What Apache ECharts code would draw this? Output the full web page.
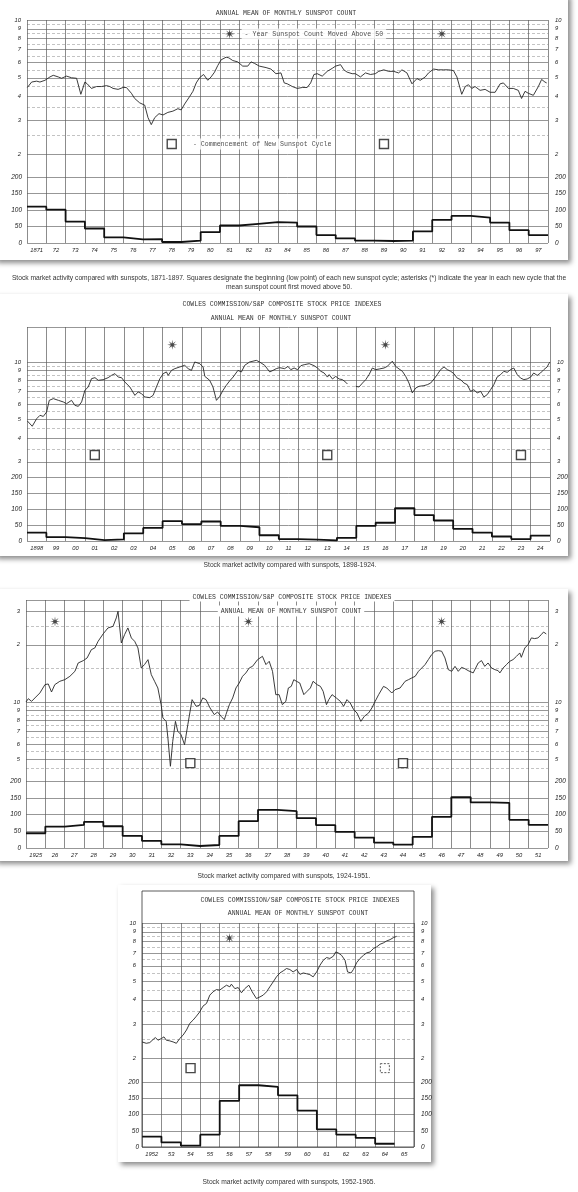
<!DOCTYPE html>
<html><head><meta charset="utf-8">
<script src="https://cdn.jsdelivr.net/npm/echarts@6/dist/echarts.min.js"></script>
<style>html,body{margin:0;padding:0;background:#fff}#c{width:578px;height:1192px}</style>
</head><body><div id="c"></div>
<script>
// ---------- DATA ----------
// Stock price index (Cowles/S&P), [year, value]
const price1871 = [[1871.02,4.45],[1871.24,4.75],[1871.5,4.8],[1871.67,4.75],[1871.76,4.65],[1871.93,4.85],[1872.19,5.05],[1872.36,5.15],[1872.62,5.05],[1872.79,4.97],[1873.05,5.1],[1873.31,5.0],[1873.57,4.97],[1873.79,4.1],[1874.0,4.75],[1874.12,4.65],[1874.34,4.4],[1874.6,4.5],[1874.86,4.5],[1875.12,4.55],[1875.29,4.5],[1875.46,4.4],[1875.72,4.35],[1875.98,4.45],[1876.15,4.45],[1876.41,4.15],[1876.58,3.9],[1876.84,3.7],[1877.1,3.6],[1877.27,3.1],[1877.44,2.85],[1877.62,3.1],[1877.84,3.25],[1878.05,3.2],[1878.3,3.3],[1878.56,3.35],[1878.82,3.45],[1878.99,3.4],[1879.17,3.65],[1879.42,3.98],[1879.6,4.25],[1879.77,4.7],[1879.94,5.0],[1880.15,5.2],[1880.37,4.85],[1880.54,5.05],[1880.72,5.35],[1880.89,5.8],[1881.06,6.2],[1881.32,6.4],[1881.46,6.35],[1881.66,6.15],[1881.92,6.05],[1882.18,5.75],[1882.44,5.75],[1882.61,6.05],[1882.78,5.95],[1883.04,5.75],[1883.39,5.65],[1883.64,5.55],[1883.9,5.25],[1884.16,5.3],[1884.33,4.7],[1884.49,4.65],[1884.75,4.5],[1885.01,4.4],[1885.27,4.45],[1885.52,4.45],[1885.7,4.7],[1885.87,5.2],[1886.04,5.25],[1886.3,5.1],[1886.56,5.4],[1886.82,5.6],[1886.99,5.75],[1887.25,5.85],[1887.42,5.5],[1887.59,5.35],[1887.85,5.25],[1888.02,5.25],[1888.28,5.05],[1888.54,5.3],[1888.8,5.2],[1889.05,5.25],[1889.23,5.4],[1889.49,5.5],[1889.74,5.4],[1890.0,5.4],[1890.26,5.3],[1890.43,5.5],[1890.69,5.3],[1890.95,4.65],[1891.21,4.95],[1891.38,4.85],[1891.64,5.05],[1891.81,5.3],[1892.07,5.55],[1892.33,5.5],[1892.59,5.5],[1892.85,5.5],[1893.1,5.45],[1893.28,5.05],[1893.53,4.1],[1893.71,4.5],[1893.88,4.6],[1894.05,4.4],[1894.22,4.5],[1894.48,4.3],[1894.74,4.35],[1895.0,4.2],[1895.26,4.2],[1895.52,4.65],[1895.69,4.7],[1895.95,4.4],[1896.2,4.4],[1896.46,4.3],[1896.63,3.9],[1896.81,4.25],[1896.98,4.15],[1897.24,4.05],[1897.5,4.5],[1897.67,4.9],[1897.84,4.75],[1897.93,4.7]];
const price1898 = [[1898.02,4.91],[1898.27,4.61],[1898.5,5.05],[1898.67,5.26],[1898.84,5.19],[1899.01,5.47],[1899.15,6.3],[1899.36,6.43],[1899.62,6.3],[1899.87,6.18],[1900.04,6.05],[1900.3,6.3],[1900.47,5.93],[1900.65,5.86],[1900.82,6.18],[1900.99,7.11],[1901.16,7.4],[1901.33,8.18],[1901.51,8.28],[1901.68,8.02],[1901.93,8.08],[1902.19,8.28],[1902.36,8.51],[1902.54,8.69],[1902.71,8.34],[1902.88,8.28],[1903.05,7.86],[1903.31,7.4],[1903.57,6.69],[1903.74,6.97],[1903.91,6.83],[1904.08,6.56],[1904.34,6.51],[1904.51,6.69],[1904.68,7.4],[1904.86,8.18],[1905.03,8.69],[1905.2,8.87],[1905.29,8.51],[1905.46,9.04],[1905.63,9.23],[1905.89,9.42],[1906.14,9.61],[1906.32,9.23],[1906.49,9.04],[1906.66,10.0],[1906.92,9.8],[1907.09,9.42],[1907.18,8.41],[1907.43,8.02],[1907.6,7.4],[1907.78,6.3],[1907.95,6.61],[1908.12,7.11],[1908.29,7.55],[1908.46,7.96],[1908.64,8.34],[1908.89,9.04],[1909.07,8.87],[1909.24,9.61],[1909.49,10.0],[1909.84,10.2],[1910.01,10.0],[1910.27,9.61],[1910.53,8.87],[1910.7,9.04],[1910.87,9.23],[1911.04,9.34],[1911.3,9.23],[1911.47,9.48],[1911.62,9.12],[1911.79,9.3],[1911.97,9.12],[1912.14,9.57],[1912.31,9.68],[1912.57,9.8],[1912.82,9.57],[1913.0,9.3],[1913.17,8.94],[1913.34,8.76],[1913.51,8.34],[1913.6,8.59],[1913.77,8.15],[1913.94,8.41],[1914.11,8.15],[1914.28,8.09],[1914.46,7.83],[1914.54,7.67],[1914.75,null],[1914.97,7.46],[1915.14,7.4],[1915.32,7.76],[1915.49,8.09],[1915.66,8.59],[1915.83,9.3],[1916.0,9.12],[1916.18,9.19],[1916.43,9.3],[1916.6,9.49],[1916.86,10.1],[1917.03,9.49],[1917.21,9.19],[1917.38,8.94],[1917.55,8.41],[1917.72,7.76],[1917.89,6.89],[1918.07,7.31],[1918.24,7.46],[1918.49,7.52],[1918.67,7.61],[1918.84,7.76],[1919.01,8.15],[1919.18,8.59],[1919.35,9.12],[1919.53,9.42],[1919.7,9.12],[1919.87,8.94],[1920.04,8.69],[1920.21,8.24],[1920.38,8.09],[1920.56,7.76],[1920.73,7.61],[1920.9,7.02],[1921.07,7.16],[1921.24,6.89],[1921.42,7.02],[1921.59,6.56],[1921.76,6.75],[1921.93,7.16],[1922.1,7.61],[1922.27,8.34],[1922.45,8.59],[1922.62,8.94],[1922.79,8.83],[1922.96,9.12],[1923.13,9.3],[1923.31,8.59],[1923.48,8.24],[1923.65,8.09],[1923.82,8.15],[1924.0,8.34],[1924.16,8.76],[1924.34,8.51],[1924.51,8.76],[1924.68,9.12],[1924.85,9.42],[1924.94,9.8],[1925.0,10.0]];
const price1925 = [[1925.0,10.0],[1925.12,10.41],[1925.29,10.08],[1925.46,10.5],[1925.72,11.16],[1925.98,12.34],[1926.15,12.44],[1926.32,11.29],[1926.49,12.34],[1926.75,12.85],[1927.01,13.11],[1927.27,13.65],[1927.53,14.5],[1927.7,16.04],[1927.96,16.5],[1928.16,17.04],[1928.38,18.85],[1928.56,19.24],[1928.73,20.86],[1928.99,22.81],[1929.24,24.52],[1929.5,25.0],[1929.67,27.69],[1929.76,30.0],[1929.93,20.44],[1930.1,22.63],[1930.27,24.52],[1930.45,21.72],[1930.62,20.86],[1930.79,19.24],[1930.96,15.11],[1931.13,15.73],[1931.31,16.7],[1931.48,13.93],[1931.65,12.85],[1931.82,11.85],[1931.99,9.68],[1932.08,8.24],[1932.25,7.91],[1932.34,6.46],[1932.47,4.59],[1932.59,6.21],[1932.73,7.91],[1932.85,7.01],[1933.02,6.73],[1933.2,5.96],[1933.37,7.6],[1933.59,10.29],[1933.8,9.49],[1933.97,9.6],[1934.14,10.5],[1934.31,10.29],[1934.52,9.3],[1934.74,8.58],[1934.91,8.86],[1935.09,8.41],[1935.26,8.07],[1935.34,8.58],[1935.52,9.68],[1935.69,10.5],[1935.86,11.85],[1936.03,12.59],[1936.2,13.65],[1936.37,14.21],[1936.55,15.11],[1936.72,15.41],[1936.98,16.71],[1937.23,17.39],[1937.41,15.73],[1937.58,16.37],[1937.75,14.5],[1937.92,10.93],[1938.09,10.93],[1938.26,9.68],[1938.44,10.08],[1938.57,11.85],[1938.72,12.08],[1938.85,13.1],[1938.99,12.85],[1939.16,12.59],[1939.37,10.93],[1939.54,11.38],[1939.71,11.85],[1939.85,12.85],[1940.06,12.33],[1940.23,12.08],[1940.37,11.38],[1940.54,9.68],[1940.66,10.29],[1940.83,10.93],[1941.05,10.5],[1941.26,10.08],[1941.43,9.49],[1941.6,10.29],[1941.77,9.88],[1941.95,9.11],[1942.12,8.75],[1942.32,7.91],[1942.5,8.41],[1942.72,8.75],[1942.89,9.3],[1943.06,10.08],[1943.24,10.93],[1943.49,12.08],[1943.66,11.85],[1943.92,11.15],[1944.09,11.61],[1944.35,11.85],[1944.61,12.85],[1944.78,13.1],[1944.95,13.37],[1945.13,13.65],[1945.3,14.5],[1945.47,15.1],[1945.64,15.72],[1945.81,16.7],[1945.98,17.74],[1946.16,18.49],[1946.33,18.62],[1946.5,18.49],[1946.67,17.05],[1946.84,14.8],[1947.02,14.5],[1947.19,15.4],[1947.36,14.5],[1947.53,15.21],[1947.7,14.97],[1947.87,14.62],[1948.13,14.22],[1948.39,16.04],[1948.56,16.51],[1948.73,15.4],[1948.9,16.04],[1949.08,15.1],[1949.25,14.8],[1949.42,14.62],[1949.51,14.22],[1949.68,15.1],[1949.85,15.72],[1950.02,16.37],[1950.19,16.7],[1950.37,17.39],[1950.54,18.11],[1950.62,17.18],[1950.8,19.23],[1950.97,20.04],[1951.14,21.73],[1951.31,21.55],[1951.48,21.73],[1951.65,22.6],[1951.77,23.34],[1951.91,22.8]];
const price1952 = [[1952.0,2.42],[1952.22,2.38],[1952.4,2.4],[1952.57,2.49],[1952.69,2.55],[1952.82,2.47],[1953.0,2.52],[1953.13,2.57],[1953.25,2.47],[1953.43,2.45],[1953.6,2.42],[1953.77,2.38],[1953.94,2.52],[1954.11,2.62],[1954.29,2.79],[1954.46,3.02],[1954.63,3.14],[1954.8,3.29],[1954.97,3.46],[1955.14,3.71],[1955.32,3.83],[1955.49,4.23],[1955.66,4.4],[1955.83,4.52],[1956.0,4.49],[1956.18,4.63],[1956.35,4.76],[1956.52,4.67],[1956.6,4.82],[1956.78,4.57],[1956.95,4.63],[1957.12,4.35],[1957.29,4.57],[1957.5,4.76],[1957.67,4.4],[1957.89,4.06],[1958.07,4.14],[1958.24,4.23],[1958.41,4.4],[1958.58,4.67],[1958.75,4.95],[1958.92,5.26],[1959.1,5.51],[1959.27,5.65],[1959.44,5.81],[1959.61,5.74],[1959.78,5.58],[1959.96,5.74],[1960.13,5.42],[1960.3,5.51],[1960.47,5.46],[1960.64,5.4],[1960.81,5.26],[1960.99,5.58],[1961.16,6.04],[1961.33,6.41],[1961.5,6.62],[1961.67,6.55],[1961.85,6.73],[1961.97,7.08],[1962.1,7.0],[1962.27,6.8],[1962.45,6.41],[1962.58,5.58],[1962.76,5.51],[1962.88,5.74],[1963.05,6.23],[1963.22,6.55],[1963.4,6.8],[1963.56,7.0],[1963.74,7.08],[1963.91,7.37],[1964.08,7.52],[1964.25,7.76],[1964.42,7.88],[1964.59,8.07],[1964.77,8.2],[1964.94,8.4],[1965.11,8.53]];

// Annual mean sunspot count, one value per year starting at the first year
const sun1871 = [110,101,65,44,17,11,12,3,7,33,53,58,63,62,50,24,14,7,6,7,35,70,82,77,62,39,24];
const sun1898 = [26,12,9,3,5,24,41,62,53,61,47,43,18,6,4,2,10,47,57,103,81,64,38,26,14,6,17];
const sun1925 = [44,64,69,78,65,36,21,11,6,9,36,80,114,110,89,68,48,31,16,10,33,93,152,136,135,84,69];
const sun1952 = [32,14,4,38,142,190,185,159,112,54,38,28,10];

// Marker years
const aboveFiftyYears1 = [1881,1892], cycleStartYears1 = [1878,1889];
const aboveFiftyYears2 = [1905,1916], cycleStartYears2 = [1901,1913,1923];
const aboveFiftyYears3 = [1926,1936,1946], cycleStartYears3 = [1933,1944];
const aboveFiftyYears4 = [1956], cycleStartYears4 = [1954], cycleStartTentative4 = [1964];

// Tick labels
const priceTicksA = [2,3,4,5,6,7,8,9,10];
const priceTicksB = [3,4,5,6,7,8,9,10];
const priceTicksC = [5,6,7,8,9,10,20,30];
const priceTickTextC = ['5','6','7','8','9','10','2','3'];
const minorTicksA = [2.5,3.5,4.5,5.5,6.5,7.5,8.5,9.5];
const minorTicksC = [4.5,5.5,6.5,7.5,8.5,9.5,15,25];
const sunTicks = [0,50,100,150,200];

// ---------- LAYOUT ----------
const MONO = '"Liberation Mono","DejaVu Sans Mono",monospace';
const SANS = '"Liberation Sans",Arial,sans-serif';
const panels = [
  {x0:1871,x1:1898,price:price1871,sun:sun1871,stars:aboveFiftyYears1,cycles:cycleStartYears1,tentative:[],
   ticks:priceTicksA,tickText:null,minor:minorTicksA,left:27,width:521,pTop:20,pH:157,sH:66,pMin:1.52,pMax:10,starLevel:8.46,boxLevel:2.26,topLine:false,legend:true},
  {x0:1898,x1:1925,price:price1898,sun:sun1898,stars:aboveFiftyYears2,cycles:cycleStartYears2,tentative:[],
   ticks:priceTicksB,tickText:null,minor:minorTicksA.slice(1),left:27,width:523,pTop:327,pH:150,sH:64,pMin:2.5,pMax:15.25,starLevel:12.3,boxLevel:3.26,topLine:true},
  {x0:1925,x1:1952,price:price1925,sun:sun1925,stars:aboveFiftyYears3,cycles:cycleStartYears3,tentative:[],
   ticks:priceTicksC,tickText:priceTickTextC,minor:minorTicksC,left:26,width:522,pTop:600,pH:181,sH:67,pMin:3.84,pMax:34.4,starLevel:26.5,boxLevel:4.77,topLine:true},
  {x0:1952,x1:1966,price:price1952,sun:sun1952,stars:aboveFiftyYears4,cycles:cycleStartYears4,tentative:cycleStartTentative4,
   ticks:priceTicksA,tickText:null,minor:minorTicksA,left:142,width:272,pTop:923,pH:159,sH:65,pMin:1.5,pMax:10,starLevel:8.36,boxLevel:1.77,topLine:false,sunLabelMargin:3}
];

function starPath(){
  let s='';
  for(let k=0;k<16;k++){const r=k%2?3:10;const a=k*Math.PI/8-Math.PI/2;
    s+=(k?'L':'M')+(10+r*Math.cos(a)).toFixed(2)+' '+(10+r*Math.sin(a)).toFixed(2)+' ';}
  return 'path://'+s+'Z';
}
const STAR = starPath();
const labelStyle = {fontFamily:SANS,fontStyle:'italic',color:'#222'};

const grid=[],xAxis=[],yAxis=[],series=[];
panels.forEach((p,i)=>{
  const gP=grid.length; grid.push({left:p.left,top:p.pTop,width:p.width,height:p.pH});
  const gS=grid.length; grid.push({left:p.left,top:p.pTop+p.pH,width:p.width,height:p.sH});
  const vLine={show:true,lineStyle:{color:'#5a5a5a',width:0.7}};
  const xP=xAxis.length;
  xAxis.push({gridIndex:gP,type:'value',min:p.x0,max:p.x1,interval:1,axisLabel:{show:false},axisTick:{show:false},axisLine:{show:false},splitLine:vLine});
  const years=[];for(let y=p.x0;y<p.x1;y++)years.push(y+0.5);
  const xS=xAxis.length;
  xAxis.push({gridIndex:gS,type:'value',min:p.x0,max:p.x1,interval:1,axisTick:{show:false},axisLine:{show:false},splitLine:vLine,
    axisLabel:Object.assign({customValues:years,fontSize:5.8,margin:4,formatter:v=>{const y=Math.floor(v);return y===p.x0?String(y):String(y%100).padStart(2,'0');}},labelStyle)});
  const fmt=v=>{const k=p.ticks.findIndex(t=>Math.abs(t-v)<t*1e-3);if(k<0)return '';return p.tickText?p.tickText[k]:String(p.ticks[k]);};
  const solid=p.ticks.slice(); if(p.topLine) solid.push(p.pMax*0.9995);
  const yPL=yAxis.length;
  yAxis.push({gridIndex:gP,type:'log',min:p.pMin,max:p.pMax,position:'left',axisLine:{show:false},axisTick:{show:false,customValues:solid},
    axisLabel:Object.assign({customValues:p.ticks,formatter:fmt,fontSize:5.8,margin:6},labelStyle),splitLine:{show:true,lineStyle:{color:'#6a6a6a',width:0.7}}});
  yAxis.push({gridIndex:gP,type:'log',min:p.pMin,max:p.pMax,position:'right',axisLine:{show:false},axisTick:{show:false,customValues:p.minor},
    axisLabel:Object.assign({customValues:p.ticks,formatter:fmt,fontSize:5.8,margin:7},labelStyle),splitLine:{show:true,lineStyle:{color:'#9a9a9a',width:0.6,type:[3,2]}}});
  const ySL=yAxis.length;
  const m=p.sunLabelMargin||5;
  yAxis.push({gridIndex:gS,type:'value',min:0,max:200,interval:50,position:'left',axisLine:{show:false},axisTick:{show:false},
    axisLabel:Object.assign({fontSize:6.5,margin:m},labelStyle),splitLine:{show:true,lineStyle:{color:'#6a6a6a',width:0.7}}});
  yAxis.push({gridIndex:gS,type:'value',min:0,max:200,interval:50,position:'right',axisLine:{show:false},axisTick:{show:false},
    axisLabel:Object.assign({fontSize:6.5,margin:7},labelStyle),splitLine:{show:false}});
  // price line
  series.push({type:'line',xAxisIndex:xP,yAxisIndex:yPL,data:p.price,showSymbol:false,connectNulls:false,
    lineStyle:{color:'#262626',width:0.9},silent:true,z:3});
  // sunspot step
  const step=p.sun.map((v,k)=>[p.x0+k,v]); step.push([p.x0+p.sun.length,p.sun[p.sun.length-1]]);
  series.push({type:'line',step:'end',xAxisIndex:xS,yAxisIndex:ySL,data:step,showSymbol:false,
    lineStyle:{color:'#111',width:1.8},silent:true,z:3});
  // asterisks
  series.push({type:'scatter',xAxisIndex:xP,yAxisIndex:yPL,symbol:STAR,symbolSize:10,itemStyle:{color:'#1a1a1a'},silent:true,z:4,
    data:p.stars.map((y,k)=>{const d={value:[y+0.5,p.starLevel]};
      if(p.legend&&k===0)d.label={show:true,position:'right',distance:7,formatter:'- Year Sunspot Count Moved Above 50',fontFamily:MONO,fontSize:6.6,color:'#222',backgroundColor:'#fff',padding:[2,3]};
      return d;})});
  // squares
  series.push({type:'scatter',xAxisIndex:xP,yAxisIndex:yPL,symbol:'rect',symbolSize:9,silent:true,z:4,
    itemStyle:{color:'#fff',borderColor:'#1a1a1a',borderWidth:1.4},
    data:p.cycles.map((y,k)=>{const d={value:[y+0.5,p.boxLevel]};
      if(p.legend&&k===0)d.label={show:true,position:'right',distance:13,formatter:'- Commencement of New Sunspot Cycle',fontFamily:MONO,fontSize:6.6,color:'#222',backgroundColor:'#fff',padding:[2,3]};
      return d;})});
  if(p.tentative.length){
    series.push({type:'scatter',xAxisIndex:xP,yAxisIndex:yPL,symbol:'rect',symbolSize:9,silent:true,z:4,
      itemStyle:{color:'#fff',borderColor:'#333',borderWidth:1,borderType:[2,1.5]},
      data:p.tentative.map(y=>[y+0.5,p.boxLevel])});
  }
});

function txt(text,x,y,font,opts){
  return Object.assign({type:'text',x:x,y:y,z:20,style:Object.assign({text:text,font:font,fill:'#333',align:'center',verticalAlign:'middle',textAlign:'center',textVerticalAlign:'middle'},opts||{})});
}
const titleFont='6.5px '+MONO, capFont='6.7px '+SANS;
const graphic=[
  {type:'rect',z:-10,shape:{x:-6,y:-6,width:574,height:266},style:{fill:'#fff',shadowBlur:5,shadowOffsetX:3,shadowOffsetY:3,shadowColor:'rgba(0,0,0,0.45)'}},
  {type:'rect',z:-10,shape:{x:-6,y:294,width:574,height:262},style:{fill:'#fff',shadowBlur:5,shadowOffsetX:3,shadowOffsetY:3,shadowColor:'rgba(0,0,0,0.45)'}},
  {type:'rect',z:-10,shape:{x:-6,y:589,width:574,height:272},style:{fill:'#fff',shadowBlur:5,shadowOffsetX:3,shadowOffsetY:3,shadowColor:'rgba(0,0,0,0.45)'}},
  {type:'rect',z:-10,shape:{x:118,y:885,width:313,height:277},style:{fill:'#fff',shadowBlur:5,shadowOffsetX:3,shadowOffsetY:3,shadowColor:'rgba(0,0,0,0.45)'}},
  {type:'rect',z:6,shape:{x:142,y:891,width:272,height:256},style:{fill:'none',stroke:'#333',lineWidth:0.8}},
  txt('ANNUAL MEAN OF MONTHLY SUNSPOT COUNT',286,13,titleFont),
  txt('COWLES COMMISSION/S&P COMPOSITE STOCK PRICE INDEXES',282,304,titleFont),
  txt('ANNUAL MEAN OF MONTHLY SUNSPOT COUNT',281,318,titleFont),
  txt('COWLES COMMISSION/S&P COMPOSITE STOCK PRICE INDEXES',292,597,titleFont,{backgroundColor:'#fff',padding:[1,3]}),
  txt('ANNUAL MEAN OF MONTHLY SUNSPOT COUNT',291,611,titleFont,{backgroundColor:'#fff',padding:[2,3]}),
  txt('COWLES COMMISSION/S&P COMPOSITE STOCK PRICE INDEXES',300,900,titleFont),
  txt('ANNUAL MEAN OF MONTHLY SUNSPOT COUNT',298,913,titleFont),
  txt('Stock market activity compared with sunspots, 1871-1897. Squares designate the beginning (low point) of each new sunspot cycle; asterisks (*) indicate the year in each new cycle that the',289,278,capFont),
  txt('mean sunspot count first moved above 50.',289,287,capFont),
  txt('Stock market activity compared with sunspots, 1898-1924.',290,565,capFont),
  txt('Stock market activity compared with sunspots, 1924-1951.',284,876,capFont),
  txt('Stock market activity compared with sunspots, 1952-1965.',289,1182,capFont)
];

const chart=echarts.init(document.getElementById('c'),null,{renderer:'canvas'});
chart.setOption({animation:false,backgroundColor:'#fff',grid,xAxis,yAxis,series,graphic});
</script></body></html>
